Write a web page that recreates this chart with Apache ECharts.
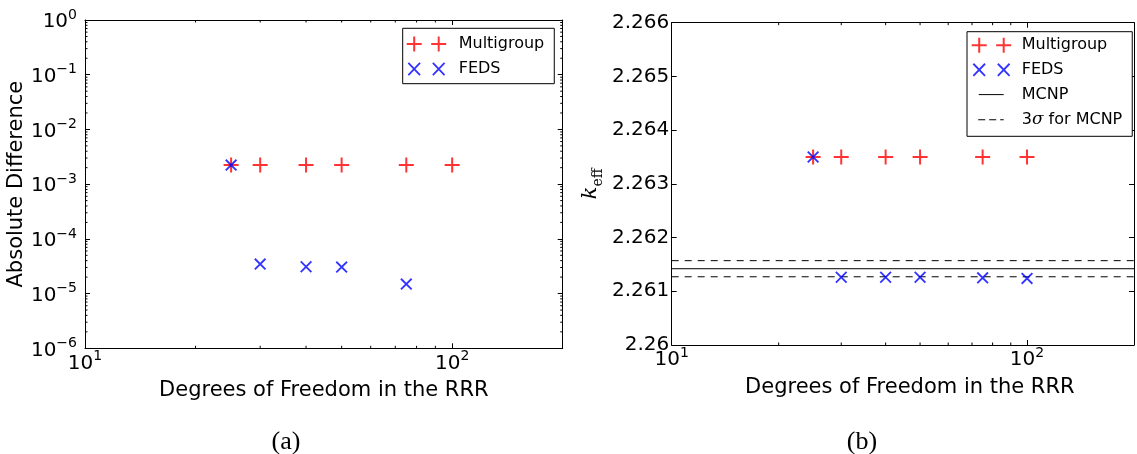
<!DOCTYPE html>
<html>
<head>
<meta charset="utf-8">
<script src="https://cdn.jsdelivr.net/npm/echarts@6/dist/echarts.min.js"></script>
<style>
  html, body { margin: 0; padding: 0; background: #fff; }
  #chart { width: 1137px; height: 454px; }
</style>
</head>
<body>
<div id="chart"></div>
<script>
// Degrees of freedom in the resolved resonance range
const dof = [25, 30, 40, 50, 75, 100];
const dofFedsDiff = [25, 30, 40, 50, 75];

// (a) absolute difference
const diffMultigroup = [2.23e-3, 2.23e-3, 2.23e-3, 2.23e-3, 2.23e-3, 2.23e-3];
const diffFeds = [2.23e-3, 3.46e-5, 3.09e-5, 3.05e-5, 1.49e-5];

// (b) k_eff
const keffMultigroup = [2.2635, 2.2635, 2.2635, 2.2635, 2.2635, 2.2635];
const keffFeds = [2.2635, 2.26126, 2.26126, 2.26126, 2.26125, 2.26124];
const keffMcnp = 2.26142;
const keffMcnp3Sigma = 0.00015;

// axis ranges
const dofRange = [10, 200];
const diffRange = [1e-6, 1];
const keffRange = [2.26, 2.266];
const keffStep = 0.001;

// minor tick positions on the log axes
const dofMinorTicks = [20, 30, 40, 50, 60, 70, 80, 90];
const diffMinorTicks = [];
for (let e = -6; e <= -1; e++) {
  for (let k = 2; k <= 9; k++) diffMinorTicks.push(k * Math.pow(10, e));
}

const SANS = 'DejaVu Sans';

// marker shapes (filled outlines)
const PLUS = 'path://M0,6.5H15V8.5H0Z M6.5,0H8.5V15H6.5Z';
const CROSS = 'path://M0,1.3L1.3,0L12,10.7L10.7,12Z M10.7,0L12,1.3L1.3,12L0,10.7Z';

// legend icons: 40x16 boxes (corner moveTo points fix the bounding box)
const BOX = 'M0,0 M40,16 ';
function plusAt(cx) {
  return `M${cx - 7.5},7H${cx + 7.5}V9H${cx - 7.5}Z M${cx - 1},0.5H${cx + 1}V15.5H${cx - 1}Z `;
}
function crossAt(cx) {
  const a = cx - 6.5, b = cx + 6.5;
  return `M${a},2.5L${a + 1.3},1.2L${b},13.4L${b - 1.3},14.7Z M${b - 1.3},1.2L${b},2.5L${a + 1.3},14.7L${a},13.4Z `;
}
const ICON_PLUS = 'path://' + BOX + plusAt(7.5) + plusAt(32);
const ICON_CROSS = 'path://' + BOX + crossAt(7.5) + crossAt(32);
const ICON_LINE = 'path://' + BOX + 'M7,7.5H32V8.5H7Z';
const ICON_DASH = 'path://' + BOX + 'M6.5,7.5H13.5V8.5H6.5Z M17.5,7.5H24.5V8.5H17.5Z M28.5,7.5H32V8.5H28.5Z';

function powLabel(v) {
  const lg = Math.log10(v);
  const e = Math.round(lg);
  if (Math.abs(lg - e) > 1e-6) return '';
  return '{b|10}{s|' + (e < 0 ? '\u2212' + (-e) : String(e)) + '}';
}
const powRich = {
  b: { fontSize: 20, fontFamily: SANS, color: '#000', lineHeight: 24, verticalAlign: 'bottom' },
  s: { fontSize: 14, fontFamily: SANS, color: '#000', lineHeight: 14, verticalAlign: 'top' }
};

const lineBlack = { color: '#000', width: 1 };

function frameAxis(extra) {
  return Object.assign({
    axisLine: { show: true, onZero: false, lineStyle: lineBlack },
    axisTick: { show: true, inside: true, length: 5, lineStyle: lineBlack },
    splitLine: { show: false },
    minorTick: { show: false }
  }, extra);
}

function dofAxis(gridIndex, position, showLabels, titleShift) {
  return frameAxis({
    type: 'log', logBase: 10, gridIndex, position,
    min: dofRange[0], max: dofRange[1],
    axisLabel: { show: showLabels, formatter: powLabel, rich: powRich, margin: 1 },
    name: showLabels ? 'Degrees of Freedom in the RRR' : '',
    nameLocation: 'middle', nameGap: 32,
    nameTextStyle: { fontSize: 21, fontFamily: SANS, color: '#000', padding: [0, 0, 0, titleShift || 0] }
  });
}

// short inward ticks at minor positions, drawn on both spines of a log axis
function minorTickSeries(xAxisIndex, yAxisIndex, values, dir, ref) {
  const len = 2.5;
  return {
    type: 'custom', xAxisIndex, yAxisIndex, silent: true, clip: false, z: 5,
    data: values.map(v => dir === 'x' ? [v, ref] : [ref, v]),
    renderItem: (params, api) => {
      const cs = params.coordSys;
      const p = api.coord([api.value(0), api.value(1)]);
      const st = { stroke: '#000', lineWidth: 1 };
      if (dir === 'x') {
        const x = p[0];
        return { type: 'group', children: [
          { type: 'line', shape: { x1: x, y1: cs.y + cs.height, x2: x, y2: cs.y + cs.height - len }, style: st },
          { type: 'line', shape: { x1: x, y1: cs.y, x2: x, y2: cs.y + len }, style: st }
        ] };
      }
      const y = p[1];
      return { type: 'group', children: [
        { type: 'line', shape: { x1: cs.x, y1: y, x2: cs.x + len, y2: y }, style: st },
        { type: 'line', shape: { x1: cs.x + cs.width, y1: y, x2: cs.x + cs.width - len, y2: y }, style: st }
      ] };
    }
  };
}

const pairs = (xs, ys) => xs.map((x, i) => [x, ys[i]]);

const option = {
  animation: false,
  backgroundColor: '#fff',
  grid: [
    { left: 85, top: 20, width: 477.7, height: 328.3 },
    { left: 671.7, top: 22.7, width: 469.3, height: 322.3 }
  ],
  xAxis: [
    dofAxis(0, 'bottom', true, 0),
    dofAxis(0, 'top', false, 0),
    dofAxis(1, 'bottom', true, 14),
    dofAxis(1, 'top', false, 0)
  ],
  yAxis: [
    frameAxis({
      type: 'log', logBase: 10, gridIndex: 0, position: 'left',
      min: diffRange[0], max: diffRange[1],
      axisLabel: { formatter: powLabel, rich: powRich, margin: 8 },
      name: 'Absolute Difference', nameLocation: 'middle', nameGap: 54,
      nameTextStyle: { fontSize: 21, fontFamily: SANS, color: '#000' }
    }),
    frameAxis({
      type: 'log', logBase: 10, gridIndex: 0, position: 'right',
      min: diffRange[0], max: diffRange[1], axisLabel: { show: false }
    }),
    frameAxis({
      type: 'value', gridIndex: 1, position: 'left',
      min: keffRange[0], max: keffRange[1], interval: keffStep,
      axisLabel: {
        margin: 2.5, fontSize: 20, fontFamily: SANS, color: '#000',
        formatter: v => String(+v.toFixed(3))
      },
      name: '{k|k}{e|eff}', nameLocation: 'middle', nameGap: 66,
      nameTextStyle: {
        rich: {
          k: { fontFamily: 'DejaVu Serif', fontStyle: 'italic', fontSize: 21, color: '#000', lineHeight: 26, verticalAlign: 'top' },
          e: { fontFamily: 'DejaVu Serif', fontSize: 14, color: '#000', lineHeight: 14, verticalAlign: 'bottom' }
        }
      }
    }),
    frameAxis({
      type: 'value', gridIndex: 1, position: 'right',
      min: keffRange[0], max: keffRange[1], interval: keffStep,
      axisLabel: { show: false }
    })
  ],
  legend: [
    {
      orient: 'vertical', left: 402.7, top: 28.3,
      data: [{ name: 'Multigroup', icon: ICON_PLUS }, { name: 'FEDS', icon: ICON_CROSS }],
      itemWidth: 40, itemHeight: 16, itemGap: 9,
      padding: [7.7, 10, 6.7, 4],
      borderColor: '#000', borderWidth: 1, borderRadius: 0, backgroundColor: '#fff',
      itemStyle: { borderWidth: 0 },
      textStyle: { fontSize: 16, fontFamily: SANS, color: '#000', padding: [0, 0, 0, 7] },
      selectedMode: false
    },
    {
      orient: 'vertical', left: 967, top: 31.7,
      data: [
        { name: 'Multigroup', icon: ICON_PLUS },
        { name: 'FEDS', icon: ICON_CROSS },
        { name: 'MCNP', icon: ICON_LINE },
        { name: '3σ for MCNP', icon: ICON_DASH }
      ],
      itemWidth: 40, itemHeight: 16, itemGap: 8.7,
      padding: [5.5, 10, 8, 4.7],
      borderColor: '#000', borderWidth: 1, borderRadius: 0, backgroundColor: '#fff',
      itemStyle: { borderWidth: 0 },
      formatter: name => name === '3σ for MCNP' ? '3{g|σ} for MCNP' : name,
      textStyle: {
        fontSize: 16, fontFamily: SANS, color: '#000', padding: [0, 0, 0, 5],
        rich: { g: { fontSize: 17, fontFamily: 'DejaVu Serif', fontStyle: 'italic', color: '#000' } }
      },
      selectedMode: false
    }
  ],
  series: [
    // (a)
    {
      name: 'Multigroup', type: 'scatter', xAxisIndex: 0, yAxisIndex: 0,
      symbol: PLUS, symbolSize: 15, itemStyle: { color: '#ff0000', borderWidth: 0 },
      data: pairs(dof, diffMultigroup), z: 3
    },
    {
      name: 'FEDS', type: 'scatter', xAxisIndex: 0, yAxisIndex: 0,
      symbol: CROSS, symbolSize: 12, itemStyle: { color: '#0000ff', borderWidth: 0 },
      data: pairs(dofFedsDiff, diffFeds), z: 4
    },
    minorTickSeries(0, 0, dofMinorTicks, 'x', 1e-3),
    minorTickSeries(0, 0, diffMinorTicks, 'y', 20),
    // (b)
    {
      name: 'MCNP', type: 'line', xAxisIndex: 2, yAxisIndex: 2,
      symbol: 'none', silent: true, itemStyle: { color: '#000' },
      lineStyle: { color: '#000', width: 1, type: 'solid' },
      data: [[dofRange[0], keffMcnp], [dofRange[1], keffMcnp]], z: 2
    },
    {
      name: '3σ for MCNP', type: 'line', xAxisIndex: 2, yAxisIndex: 2,
      symbol: 'none', silent: true, itemStyle: { color: '#000' },
      lineStyle: { color: '#000', width: 1, type: [7, 6] },
      data: [[dofRange[0], keffMcnp + keffMcnp3Sigma], [dofRange[1], keffMcnp + keffMcnp3Sigma]], z: 2
    },
    {
      name: '3σ for MCNP', type: 'line', xAxisIndex: 2, yAxisIndex: 2,
      symbol: 'none', silent: true, itemStyle: { color: '#000' },
      lineStyle: { color: '#000', width: 1, type: [7, 6] },
      data: [[dofRange[0], keffMcnp - keffMcnp3Sigma], [dofRange[1], keffMcnp - keffMcnp3Sigma]], z: 2
    },
    {
      name: 'Multigroup', type: 'scatter', xAxisIndex: 2, yAxisIndex: 2,
      symbol: PLUS, symbolSize: 15, itemStyle: { color: '#ff0000', borderWidth: 0 },
      data: pairs(dof, keffMultigroup), z: 3
    },
    {
      name: 'FEDS', type: 'scatter', xAxisIndex: 2, yAxisIndex: 2,
      symbol: CROSS, symbolSize: 12, itemStyle: { color: '#0000ff', borderWidth: 0 },
      data: pairs(dof, keffFeds), z: 4
    },
    minorTickSeries(2, 2, dofMinorTicks, 'x', 2.263)
  ],
  graphic: [
    { type: 'text', x: 286, y: 442, style: { text: '(a)', font: '26px "Liberation Serif"', fill: '#000', align: 'center', verticalAlign: 'middle' } },
    { type: 'text', x: 862, y: 442, style: { text: '(b)', font: '26px "Liberation Serif"', fill: '#000', align: 'center', verticalAlign: 'middle' } }
  ]
};

const chart = echarts.init(document.getElementById('chart'), null, { renderer: 'canvas' });
chart.setOption(option);
</script>
</body>
</html>
